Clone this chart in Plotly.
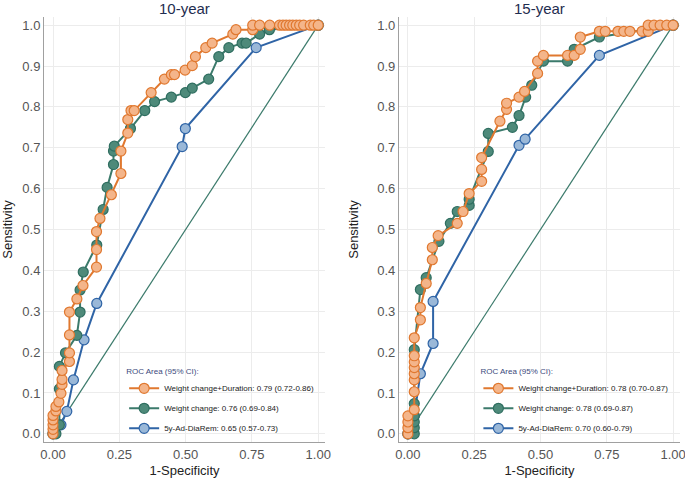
import plotly.graph_objects as go

# 10-year ROC points (1-specificity, sensitivity)
wcd10_x = [0, 0, 0, 0, 0, 0.011, 0.011, 0.022, 0.030, 0.034, 0.034, 0.034, 0.062, 0.062, 0.062, 0.062,
           0.090, 0.113, 0.164, 0.164, 0.164, 0.177, 0.220, 0.256, 0.256, 0.282, 0.282, 0.294, 0.306,
           0.370, 0.420, 0.446, 0.458, 0.498, 0.525, 0.537, 0.576, 0.600, 0.678, 0.690, 0.753, 0.753,
           0.779, 0.817, 0.854, 0.867, 0.879, 0.892, 0.904, 0.917, 0.930, 0.945, 0.970, 0.983, 1.0]
wcd10_y = [0, 0.011, 0.022, 0.034, 0.045, 0.056, 0.067, 0.078, 0.099, 0.121, 0.133, 0.155, 0.177, 0.198,
           0.242, 0.298, 0.330, 0.363, 0.408, 0.451, 0.495, 0.527, 0.585, 0.637, 0.692, 0.736, 0.769,
           0.791, 0.791, 0.835, 0.868, 0.879, 0.879, 0.890, 0.901, 0.923, 0.945, 0.956, 0.978, 0.989,
           0.989, 1.0, 1.0, 1.0, 1.0, 1.0, 1.0, 1.0, 1.0, 1.0, 1.0, 1.0, 1.0, 1.0, 1.0]

wc10_x = [0, 0.011, 0.024, 0.024, 0.024, 0.047, 0.090, 0.102, 0.102, 0.114, 0.165, 0.189, 0.204, 0.228,
          0.228, 0.231, 0.292, 0.346, 0.383, 0.446, 0.499, 0.525, 0.587, 0.625, 0.663, 0.713, 0.728,
          0.779, 0.816, 1.0]
wc10_y = [0, 0, 0.022, 0.110, 0.165, 0.198, 0.241, 0.298, 0.352, 0.396, 0.462, 0.549, 0.603, 0.659,
          0.692, 0.704, 0.747, 0.791, 0.813, 0.824, 0.835, 0.846, 0.868, 0.923, 0.945, 0.956, 0.956,
          0.978, 0.989, 1.0]

dr10_x = [0, 0.030, 0.052, 0.077, 0.117, 0.165, 0.487, 0.499, 0.766, 1.0]
dr10_y = [0, 0.022, 0.055, 0.132, 0.230, 0.319, 0.703, 0.747, 0.945, 1.0]

# 15-year ROC points
wcd15_x = [0, 0, 0, 0, 0.024, 0.024, 0.024, 0.024, 0.024, 0.024, 0.024, 0.024, 0.047, 0.047, 0.069,
           0.092, 0.092, 0.114, 0.186, 0.208, 0.231, 0.278, 0.278, 0.278, 0.347, 0.372, 0.372, 0.419,
           0.440, 0.489, 0.489, 0.511, 0.602, 0.627, 0.650, 0.650, 0.722, 0.744, 0.792, 0.814, 0.837,
           0.883, 0.906, 0.906, 0.928, 0.951, 0.976, 1.0]
wcd15_y = [0, 0.015, 0.029, 0.044, 0.059, 0.103, 0.132, 0.147, 0.162, 0.176, 0.191, 0.235, 0.279, 0.309,
           0.368, 0.426, 0.456, 0.485, 0.515, 0.544, 0.588, 0.618, 0.647, 0.676, 0.765, 0.794, 0.809,
           0.824, 0.838, 0.882, 0.912, 0.926, 0.926, 0.926, 0.941, 0.971, 0.985, 0.985, 0.985, 0.985,
           0.985, 0.985, 0.985, 1.0, 1.0, 1.0, 1.0, 1.0]

wc15_x = [0, 0.024, 0.024, 0.024, 0.024, 0.024, 0.024, 0.047, 0.069, 0.117, 0.160, 0.186, 0.231, 0.231,
          0.303, 0.303, 0.394, 0.419, 0.444, 0.467, 0.511, 0.602, 0.627, 0.722, 1.0]
wc15_y = [0, 0, 0.015, 0.029, 0.044, 0.074, 0.206, 0.353, 0.382, 0.471, 0.515, 0.544, 0.559, 0.574,
          0.691, 0.735, 0.750, 0.779, 0.824, 0.853, 0.912, 0.912, 0.941, 0.971, 1.0]

dr15_x = [0, 0.024, 0.047, 0.095, 0.095, 0.419, 0.442, 0.722, 1.0]
dr15_y = [0, 0.044, 0.147, 0.221, 0.324, 0.706, 0.721, 0.926, 1.0]

labels10 = ["Weight change+Duration: 0.79 (0.72-0.86)",
            "Weight change: 0.76 (0.69-0.84)",
            "5y-Ad-DiaRem: 0.65 (0.57-0.73)"]
labels15 = ["Weight change+Duration: 0.78 (0.70-0.87)",
            "Weight change: 0.78 (0.69-0.87)",
            "5y-Ad-DiaRem: 0.70 (0.60-0.79)"]
titles = ["10-year", "15-year"]

FONT = "Liberation Sans, Arial, sans-serif"
styles = [
    dict(line="#e0782f", fill="#f4b58a", mline="#e0782f"),   # weight change + duration
    dict(line="#3b7a6b", fill="#4e8a7a", mline="#2f6e60"),   # weight change
    dict(line="#2f64a6", fill="#9ab8d8", mline="#2f64a6"),   # 5y-Ad-DiaRem
]

fig = go.Figure()

panels = [
    ("x", "y", "legend", [(wcd10_x, wcd10_y), (wc10_x, wc10_y), (dr10_x, dr10_y)], labels10),
    ("x2", "y2", "legend2", [(wcd15_x, wcd15_y), (wc15_x, wc15_y), (dr15_x, dr15_y)], labels15),
]

for xa, ya, leg, series, labels in panels:
    # reference diagonal
    fig.add_trace(go.Scatter(x=[0, 1], y=[0, 1], mode="lines", xaxis=xa, yaxis=ya,
                             line=dict(color="#3b7a6b", width=1.2), showlegend=False,
                             hoverinfo="skip"))
    # draw blue first, orange last so orange sits on top
    for i in [2, 1, 0]:
        sx, sy = series[i]
        st = styles[i]
        fig.add_trace(go.Scatter(
            x=sx, y=sy, mode="lines+markers", xaxis=xa, yaxis=ya,
            name=labels[i], legend=leg, legendrank=i + 1, legendgroup=f"{leg}{i}",
            line=dict(color=st["line"], width=2),
            marker=dict(size=10, color=st["fill"], line=dict(color=st["mline"], width=1.2)),
        ))

axis_common = dict(
    showgrid=True, gridcolor="#ececec", gridwidth=1, zeroline=False, automargin=False,
    showline=True, linecolor="#a0a0a0", linewidth=1, ticks="", ticklabeloverflow="allow",
    tickfont=dict(family=FONT, size=13, color="#555555"),
    title_font=dict(family=FONT, size=13, color="#222222"),
)

fig.update_layout(
    width=685, height=478,
    margin=dict(l=44, r=5, t=17, b=36),
    plot_bgcolor="white", paper_bgcolor="white",
    font=dict(family=FONT),
    xaxis=dict(domain=[0, 0.442], range=[-0.034, 1.026], tickvals=[0, 0.25, 0.5, 0.75, 1],
               tickformat=".2f", title=dict(text="1-Specificity"), anchor="y", **axis_common),
    yaxis=dict(domain=[0, 1], range=[-0.02, 1.02], dtick=0.1, tickformat=".1f",
               title=dict(text="Sensitivity"), anchor="x", **axis_common),
    xaxis2=dict(domain=[0.558, 1], range=[-0.034, 1.026], tickvals=[0, 0.25, 0.5, 0.75, 1],
                tickformat=".2f", title=dict(text="1-Specificity"), anchor="y2", **axis_common),
    yaxis2=dict(domain=[0, 1], range=[-0.02, 1.02], dtick=0.1, tickformat=".1f",
                title=dict(text="Sensitivity"), anchor="x2", **axis_common),
)

legend_common = dict(
    bgcolor="rgba(0,0,0,0)", borderwidth=0, xanchor="left", yanchor="top",
    font=dict(family=FONT, size=8, color="#222222"),
    title=dict(text="ROC Area (95% CI):", font=dict(family=FONT, size=8, color="#3c4a7c")),
    tracegroupgap=1, traceorder="grouped",
)
fig.update_layout(
    legend=dict(x=0.126, y=0.185, **legend_common),
    legend2=dict(x=0.683, y=0.185, **legend_common),
)

for i, t in enumerate(titles):
    xref = "x domain" if i == 0 else "x2 domain"
    fig.add_annotation(text=t, x=0.5, y=1.0, xref=xref, yref="paper", yanchor="bottom",
                       showarrow=False, yshift=-2,
                       font=dict(family=FONT, size=15, color="#1f2d50"))

# drop the default page margin so the figure sits at the window's corner
fig.write_html("out.html", config={"displayModeBar": False},
               post_script="document.body.style.margin='0px';")
